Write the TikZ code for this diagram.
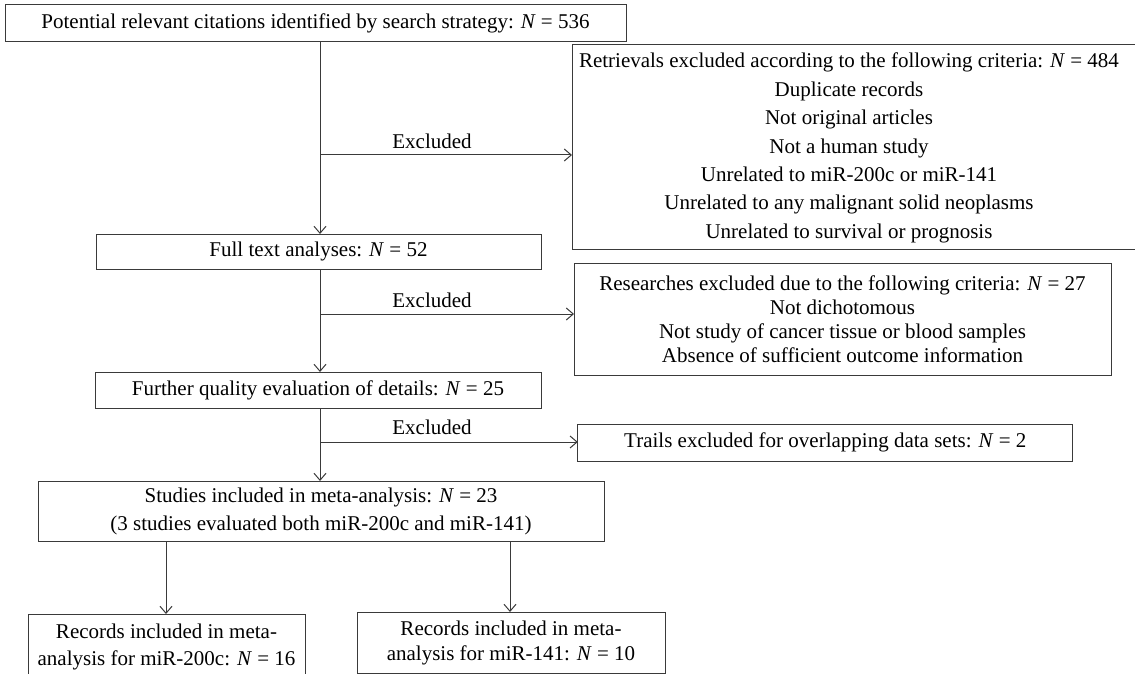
\documentclass[tikz,border=0pt]{standalone}
\usepackage{fontspec}
\setmainfont{Liberation Serif}
\usetikzlibrary{arrows.meta}
\definecolor{linec}{HTML}{3A3A3A}
\begin{document}
\begin{tikzpicture}[x=1pt,y=-1pt,
  box/.style={draw=linec, line width=1pt, inner sep=0pt, outer sep=0pt, align=center,
    font=\fontsize{21}{24}\selectfont, text=black},
  txt/.style={inner sep=0pt, align=center, text=black},
  arr/.style={draw=linec, line width=1pt, -{Straight Barb[length=7pt,width=12pt]}},
  lab/.style={font=\fontsize{21}{24}\selectfont, inner sep=0pt, text=black}]
\path[use as bounding box, clip] (0,0) rectangle (1135,674);
\fill[white] (0,0) rectangle (1135,674);

\coordinate (sp) at (320,0);
\coordinate (cl) at (166,0);
\coordinate (cr) at (510,0);

\node[box, minimum width=621pt, minimum height=37pt] (b1) at (315.5,23.5)
  {Potential relevant citations identified by search strategy: \textit{N} = 536};

\node[box, minimum width=570pt, minimum height=204pt] (b2) at (857,147) {};
\node[txt, font=\fontsize{21}{28.4}\selectfont] (b2t) at (849,148)
  {Retrievals excluded according to the following criteria: \textit{N} = 484\\
   Duplicate records\\
   Not original articles\\
   Not a human study\\
   Unrelated to miR-200c or miR-141\\
   Unrelated to any malignant solid neoplasms\\
   Unrelated to survival or prognosis};

\node[box, minimum width=445pt, minimum height=35pt] (b3) at (318.5,251.5)
  {Full text analyses: \textit{N} = 52};

\node[box, minimum width=537pt, minimum height=112pt, font=\fontsize{21}{24}\selectfont] (b4) at (842.5,319)
  {Researches excluded due to the following criteria: \textit{N} = 27\\
   Not dichotomous\\
   Not study of cancer tissue or blood samples\\
   Absence of sufficient outcome information};

\node[box, minimum width=446pt, minimum height=36pt] (b5) at (318,390)
  {Further quality evaluation of details: \textit{N} = 25};

\node[box, minimum width=495pt, minimum height=37pt] (b6) at (825.3,442.5)
  {Trails excluded for overlapping data sets: \textit{N} = 2};

\node[box, minimum width=566pt, minimum height=60pt, font=\fontsize{21}{28}\selectfont] (b7) at (321,511)
  {Studies included in meta-analysis: \textit{N} = 23\\
   (3 studies evaluated both miR-200c and miR-141)};

\node[box, minimum width=277pt, minimum height=66pt, font=\fontsize{21}{27}\selectfont] (b8) at (166.5,647)
  {Records included in meta-\\analysis for miR-200c: \textit{N} = 16};

\node[box, minimum width=308pt, minimum height=61pt, font=\fontsize{21}{25}\selectfont] (b9) at (511,642.5)
  {Records included in meta-\\analysis for miR-141: \textit{N} = 10};

\draw[arr] (b1.south -| sp) -- (b3.north -| sp);
\draw[arr] (b3.south -| sp) -- (b5.north -| sp);
\draw[arr] (b5.south -| sp) -- (b7.north -| sp);

\coordinate (j1) at (320,155);
\coordinate (j2) at (320,314);
\coordinate (j3) at (320,442);
\draw[arr] (j1) -- (b2.west |- j1);
\draw[arr] (j2) -- (b4.west |- j2);
\draw[arr] (j3) -- (b6.west |- j3);

\node[lab] (l1) at (432,141) {Excluded};
\node[lab] (l2) at (432,300) {Excluded};
\node[lab] (l3) at (432,427) {Excluded};

\draw[arr] (b7.south -| cl) -- (b8.north -| cl);
\draw[arr] (b7.south -| cr) -- (b9.north -| cr);
\end{tikzpicture}
\end{document}
